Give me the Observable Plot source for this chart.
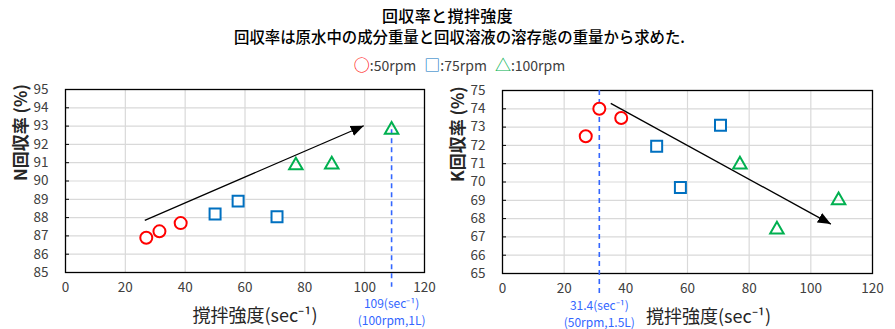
<!DOCTYPE html>
<html>
<head>
<meta charset="utf-8">
<script src="https://cdn.jsdelivr.net/npm/d3@7"></script>
<script src="https://cdn.jsdelivr.net/npm/@observablehq/plot@0.6"></script>
<style>
  body { margin: 0; background: white; font-family: "Noto Sans CJK JP", sans-serif; }
  #page { width: 895px; height: 329px; overflow: hidden; }
  .t1 { margin-top: 5px; height: 20px; line-height: 20px; text-align: center; font-size: 16px; letter-spacing: 0.4px; font-weight: 500; color: #000; }
  .t2 { height: 22px; line-height: 22px; text-align: center; font-size: 15.4px; font-weight: 500; color: #000; padding-left: 24px; }
  .legend { margin-top: 6px; height: 22px; line-height: 22px; text-align: center; font-size: 14px; color: #404040; padding-left: 24px; }
  .legend span.item { margin: 0 4px; }
  .legend span.sym { font-size: 16px; }
  #charts { display: flex; }
</style>
</head>
<body>
<div id="page">
  <div class="t1">回収率と撹拌強度</div>
  <div class="t2">回収率は原水中の成分重量と回収溶液の溶存態の重量から求めた.</div>
  <div class="legend" id="legend"></div>
  <div id="charts"></div>
</div>
<script>
// ---- data ----
const seriesNames = ["50rpm", "75rpm", "100rpm"];
const seriesColors = ["#FF0000", "#0070C0", "#00B050"];
const seriesSymbols = ["circle", "square", "triangle"];
const seriesGlyphs = ["○", "□", "△"];

const x50 = [27.0, 31.4, 38.5];
const x75 = [50.0, 57.7, 70.7];
const x100 = [77.0, 89.0, 109.0];

const nRecovery50 = [86.9, 87.25, 87.7];
const nRecovery75 = [88.2, 88.9, 88.05];
const nRecovery100 = [90.85, 90.9, 92.8];

const kRecovery50 = [72.5, 74.0, 73.5];
const kRecovery75 = [71.95, 69.7, 73.1];
const kRecovery100 = [70.95, 67.4, 69.0];

const xTicks = [0, 20, 40, 60, 80, 100, 120];
const nTicks = [85, 86, 87, 88, 89, 90, 91, 92, 93, 94, 95];
const kTicks = [65, 66, 67, 68, 69, 70, 71, 72, 73, 74, 75];

// trend arrows: [start, end]
const nTrendX = [26.5, 99.7];
const nTrendY = [87.85, 93.02];
const kTrendX = [35.1, 106.5];
const kTrendY = [74.3, 67.7];

// reference markers
const nRefX = 109;
const nRefY = [92.8, 84.2];
const nRefLabel = "109(sec⁻¹)\n(100rpm,1L)";
const kRefX = 31.4;
const kRefY = [75, 63.8];
const kRefLabel = "31.4(sec⁻¹)\n(50rpm,1.5L)";

const xTitle = "撹拌強度(sec⁻¹)";
const nTitle = "N回収率 (%)";
const kTitle = "K回収率 (%)";

// ---- legend ----
document.getElementById("legend").innerHTML = seriesNames.map((n, i) =>
  `<span class="item"><span class="sym" style="color:${seriesColors[i]}">${seriesGlyphs[i]}</span>:${n}</span>`).join("");

function rows(xs, ys, s) { return xs.map((x, i) => ({x, y: ys[i], s})); }

function makeChart(o) {
  const data = [
    ...rows(x50, o.y50, 0), ...rows(x75, o.y75, 1), ...rows(x100, o.y100, 2)
  ];
  const sizes = [6, 6.2, 5];
  const svg = Plot.plot({
    width: o.width, height: 254,
    marginLeft: o.ml, marginRight: o.mr, marginTop: o.mt, marginBottom: o.mb,
    style: {fontFamily: "'Noto Sans CJK JP', sans-serif", fontSize: "13.5px", color: "#404040", background: "white", overflow: "visible"},
    x: {domain: [0, 120]},
    y: {domain: o.domain},
    marks: [
      Plot.gridX(xTicks.slice(1, -1), {stroke: "#D9D9D9", strokeOpacity: 1, strokeWidth: 1.2}),
      Plot.gridY(o.ticks.slice(1, -1), {stroke: "#D9D9D9", strokeOpacity: 1, strokeWidth: 1.2}),
      Plot.frame({stroke: "#000", strokeWidth: 1.3}),
      Plot.ruleX([o.refX], {y1: o.refY[0], y2: o.refY[1], stroke: "#3366FF", strokeWidth: 1.6, strokeDasharray: "5,4"}),
      Plot.link([0], {x1: () => o.trendX[0], y1: () => o.trendY[0], x2: () => o.trendX[1], y2: () => o.trendY[1], stroke: "#000", strokeWidth: 1.3}),
      ...[0, 1, 2].map(s => Plot.dot(data.filter(d => d.s === s), {
        x: "x", y: "y", symbol: () => seriesSymbols[s], r: sizes[s],
        stroke: seriesColors[s], strokeWidth: 2, fill: "white", fillOpacity: s === 2 ? 0 : 1
      })),
      Plot.text([o.refLabel], {x: () => o.refX, frameAnchor: "bottom", lineAnchor: "top", dy: o.refDy, fontSize: 12, lineHeight: 1.4, fill: "#3366FF"}),
      Plot.text([xTitle], {frameAnchor: "bottom", lineAnchor: "middle", dy: 44, dx: o.titleDx, fontSize: 18, fill: "#262626"}),
      Plot.text([o.yTitle], {frameAnchor: "left", rotate: -90, dx: -44, fontSize: 17, fontWeight: "bold", fill: "#262626"}),
      Plot.axisX({ticks: xTicks, tickSize: 0, tickPadding: 10, label: null, tickFormat: d => d}),
      Plot.axisY({ticks: o.ticks, tickSize: -4, tickPadding: 21, label: null, tickFormat: d => d, stroke: "#000"})
    ]
  });
  // filled arrowhead
  const ns = "http://www.w3.org/2000/svg";
  const defs = document.createElementNS(ns, "defs");
  const marker = document.createElementNS(ns, "marker");
  const id = "head-" + o.id;
  marker.setAttribute("id", id);
  marker.setAttribute("viewBox", "0 0 12 10");
  marker.setAttribute("refX", "12");
  marker.setAttribute("refY", "5");
  marker.setAttribute("markerWidth", "13");
  marker.setAttribute("markerHeight", "11");
  marker.setAttribute("markerUnits", "userSpaceOnUse");
  marker.setAttribute("orient", "auto");
  const p = document.createElementNS(ns, "path");
  p.setAttribute("d", "M0,0L12,5L0,10Z");
  p.setAttribute("fill", "#000");
  marker.appendChild(p);
  defs.appendChild(marker);
  svg.insertBefore(defs, svg.firstChild);
  const link = svg.querySelector('g[aria-label="link"] path');
  if (link) link.setAttribute("marker-end", `url(#${id})`);
  return svg;
}

const charts = document.getElementById("charts");
charts.appendChild(makeChart({
  id: "n", width: 447, ml: 65, mr: 23, mt: 14, mb: 57,
  y50: nRecovery50, y75: nRecovery75, y100: nRecovery100,
  domain: [85, 95], ticks: nTicks, trendX: nTrendX, trendY: nTrendY,
  refX: nRefX, refY: nRefY, refLabel: nRefLabel, refDy: 24, yTitle: nTitle, titleDx: 10
}));
charts.appendChild(makeChart({
  id: "k", width: 448, ml: 55, mr: 23, mt: 15, mb: 56,
  y50: kRecovery50, y75: kRecovery75, y100: kRecovery100,
  domain: [65, 75], ticks: kTicks, trendX: kTrendX, trendY: kTrendY,
  refX: kRefX, refY: kRefY, refLabel: kRefLabel, refDy: 25, yTitle: kTitle, titleDx: 21
}));
</script>
</body>
</html>
